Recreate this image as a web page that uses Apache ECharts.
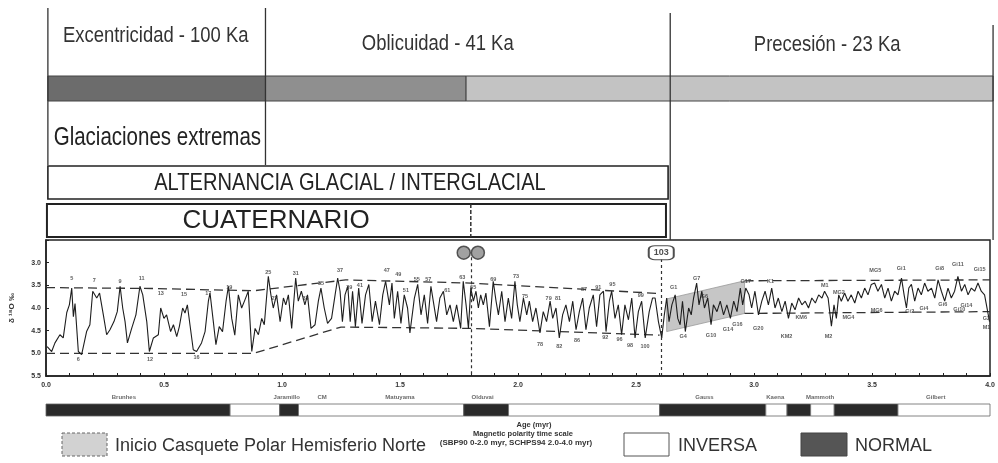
<!DOCTYPE html>
<html>
<head>
<meta charset="utf-8">
<script src="https://cdn.jsdelivr.net/npm/echarts@6/dist/echarts.min.js"></script>
<style>
  html, body { margin: 0; padding: 0; background: #fff; }
  #chart { width: 998px; height: 463px; }
</style>
</head>
<body>
<div id="chart"></div>
<script>
  // δ18O benthic record: [age (Myr), ‰]
  const d18o = [
    [0.005,4.85],[0.024,4.96],[0.038,4.77],[0.059,4.59],[0.073,4.66],[0.088,4.10],[0.099,3.93],[0.109,3.56],
    [0.116,4.19],[0.123,3.90],[0.137,4.96],[0.151,5.03],[0.172,4.52],[0.186,4.37],[0.198,3.63],[0.215,3.78],
    [0.227,3.67],[0.243,4.15],[0.257,4.59],[0.271,4.48],[0.288,4.30],[0.302,4.08],[0.314,3.52],[0.325,4.00],
    [0.335,4.30],[0.345,4.77],[0.363,4.45],[0.381,4.15],[0.398,3.52],[0.410,3.71],[0.427,4.30],[0.438,4.96],
    [0.455,4.66],[0.476,4.59],[0.486,4.00],[0.500,4.23],[0.511,4.15],[0.528,4.52],[0.540,4.37],[0.554,4.63],
    [0.565,4.41],[0.579,4.00],[0.589,4.11],[0.599,3.93],[0.610,4.37],[0.624,4.92],[0.638,4.96],[0.659,4.77],
    [0.674,4.52],[0.688,3.85],[0.695,3.67],[0.709,4.30],[0.720,4.81],[0.734,4.41],[0.748,4.52],[0.763,3.85],
    [0.773,3.52],[0.787,4.23],[0.800,4.60],[0.815,3.71],[0.829,4.00],[0.843,3.82],[0.857,3.63],[0.872,4.96],
    [0.886,4.45],[0.900,4.59],[0.914,4.23],[0.925,4.37],[0.942,3.30],[0.953,3.71],[0.963,4.00],[0.977,3.71],
    [0.992,4.30],[1.006,3.78],[1.016,3.93],[1.027,3.71],[1.041,4.45],[1.058,3.34],[1.069,3.85],[1.082,3.63],
    [1.097,3.93],[1.108,3.71],[1.123,4.45],[1.140,4.37],[1.154,3.85],[1.165,3.56],[1.179,4.00],[1.193,4.34],
    [1.210,4.23],[1.225,3.71],[1.236,3.34],[1.246,3.63],[1.256,4.30],[1.267,3.71],[1.279,3.52],[1.289,4.30],
    [1.299,3.63],[1.311,4.41],[1.325,3.56],[1.339,4.34],[1.354,3.71],[1.368,3.48],[1.382,4.30],[1.396,3.85],
    [1.413,4.37],[1.427,3.71],[1.439,3.41],[1.455,3.93],[1.466,3.45],[1.476,4.23],[1.490,3.63],[1.504,4.34],
    [1.518,3.71],[1.532,4.00],[1.542,4.55],[1.561,3.78],[1.575,3.48],[1.589,4.15],[1.603,3.71],[1.617,4.34],
    [1.631,3.52],[1.641,3.85],[1.655,4.30],[1.669,3.78],[1.684,3.63],[1.698,4.15],[1.712,3.93],[1.726,4.30],
    [1.740,3.93],[1.757,4.45],[1.768,3.41],[1.780,3.93],[1.790,4.45],[1.800,3.56],[1.811,3.85],[1.822,3.63],
    [1.832,4.00],[1.842,3.71],[1.853,3.93],[1.864,3.67],[1.879,4.41],[1.895,3.41],[1.907,3.85],[1.917,4.15],
    [1.931,3.63],[1.945,4.30],[1.959,3.78],[1.973,4.23],[1.987,3.41],[1.997,3.93],[2.008,4.30],[2.023,3.78],
    [2.037,4.15],[2.048,3.85],[2.062,4.30],[2.076,4.00],[2.093,4.55],[2.107,4.08],[2.121,4.30],[2.136,3.85],
    [2.147,4.23],[2.161,4.00],[2.175,4.66],[2.189,4.15],[2.203,3.93],[2.218,4.30],[2.232,3.85],[2.246,4.48],
    [2.260,4.08],[2.274,3.78],[2.288,4.48],[2.302,4.00],[2.319,3.71],[2.333,4.41],[2.347,3.71],[2.362,3.63],
    [2.373,4.52],[2.387,3.85],[2.397,3.63],[2.411,4.23],[2.425,3.93],[2.439,4.59],[2.453,3.93],[2.468,4.26],
    [2.482,3.78],[2.496,4.66],[2.510,4.08],[2.524,3.85],[2.539,4.66],[2.556,4.08],[2.570,3.78],[2.581,3.78],
    [2.595,4.30],[2.609,4.66],[2.620,4.15],[2.630,3.78],[2.640,4.30],[2.652,3.93],[2.666,3.71],[2.677,4.23],
    [2.687,4.37],[2.697,3.85],[2.709,4.52],[2.723,4.00],[2.734,4.15],[2.744,3.78],[2.757,3.45],[2.767,3.93],
    [2.779,3.63],[2.790,4.00],[2.804,3.78],[2.818,4.37],[2.828,3.93],[2.843,4.08],[2.857,3.85],[2.871,4.15],
    [2.885,3.93],[2.900,4.23],[2.914,3.85],[2.928,4.08],[2.942,3.56],[2.952,3.93],[2.965,3.56],[2.979,3.71],
    [2.990,4.00],[3.004,3.63],[3.019,4.15],[3.033,3.85],[3.047,3.63],[3.061,3.93],[3.075,3.56],[3.089,4.00],
    [3.103,3.78],[3.118,4.08],[3.132,3.85],[3.146,4.23],[3.160,3.89],[3.174,4.04],[3.189,3.78],[3.203,3.93],
    [3.217,3.85],[3.231,4.00],[3.245,3.78],[3.260,3.89],[3.274,3.71],[3.288,3.78],[3.299,3.63],[3.314,3.78],
    [3.328,4.40],[3.339,3.93],[3.349,4.23],[3.359,3.71],[3.370,3.85],[3.384,3.67],[3.398,3.85],[3.412,3.71],
    [3.427,3.89],[3.441,3.63],[3.455,3.78],[3.469,3.56],[3.483,3.71],[3.497,3.48],[3.511,3.45],[3.525,3.63],
    [3.540,3.48],[3.554,3.78],[3.568,3.56],[3.582,3.85],[3.596,3.63],[3.610,3.71],[3.625,3.34],[3.636,3.71],
    [3.646,4.00],[3.656,3.56],[3.667,3.48],[3.681,3.85],[3.695,3.56],[3.709,3.71],[3.723,3.45],[3.737,3.63],
    [3.752,3.56],[3.766,3.78],[3.780,3.38],[3.794,3.63],[3.808,3.85],[3.822,3.56],[3.836,3.78],[3.850,3.63],
    [3.864,3.30],[3.879,3.63],[3.893,3.48],[3.907,3.71],[3.921,3.56],[3.935,3.63],[3.949,3.45],[3.963,3.63],
    [3.977,3.71],[3.998,4.30]
  ];

  // dashed envelopes
  const upperEnvelope = [[0,3.55],[0.45,3.57],[0.88,3.62],[1.27,3.38],[1.8,3.45],[2.6,3.68]];
  const lowerEnvelope = [[0,5.0],[0.88,5.0],[1.25,4.42],[1.8,4.45],[2.6,4.6]];
  const upperLate = [[2.96,3.40],[4.0,3.38]];
  const lowerLate = [[2.96,4.12],[4.0,4.08]];

  // onset of Northern Hemisphere ice cap (shaded band)
  const capTop = [[2.63,3.80],[2.96,3.40]];
  const capBottom = [[2.63,4.52],[2.96,4.12]];

  // marine isotope stage labels: [label, age, value]
  const stageLabels = [
    ['5',0.109,3.35],['6',0.137,5.14],['7',0.205,3.40],['9',0.314,3.42],['11',0.405,3.35],['12',0.441,5.14],
    ['13',0.486,3.69],['15',0.585,3.71],['16',0.638,5.10],['17',0.688,3.69],['19',0.777,3.55],['25',0.942,3.22],
    ['27',0.968,3.80],['31',1.058,3.24],['33',1.10,3.80],['35',1.165,3.47],['37',1.246,3.18],['39',1.285,3.55],
    ['41',1.33,3.50],['47',1.444,3.18],['49',1.493,3.25],['51',1.525,3.62],['55',1.571,3.38],['57',1.62,3.38],
    ['61',1.70,3.62],['63',1.764,3.32],['65',1.81,3.55],['69',1.895,3.36],['73',1.992,3.30],['75',2.03,3.75],
    ['78',2.093,4.80],['79',2.13,3.78],['81',2.17,3.78],['82',2.175,4.85],['86',2.25,4.72],['87',2.28,3.60],
    ['91',2.34,3.55],['92',2.37,4.66],['95',2.40,3.48],['96',2.43,4.70],['98',2.475,4.82],['99',2.52,3.72],
    ['100',2.538,4.84],['G1',2.66,3.55],['G4',2.70,4.62],['G7',2.757,3.34],['G6',2.79,3.75],['G10',2.818,4.60],
    ['G14',2.89,4.47],['G16',2.93,4.36],['G17',2.965,3.42],['G20',3.018,4.46],['K1',3.07,3.42],['KM2',3.138,4.62],
    ['KM6',3.20,4.22],['M1',3.30,3.50],['M2',3.316,4.62],['MG2',3.36,3.66],['MG4',3.40,4.22],['MG5',3.514,3.18],
    ['MG6',3.52,4.06],['Gi1',3.624,3.12],['Gi2',3.66,4.08],['Gi4',3.72,4.02],['Gi8',3.787,3.12],['Gi6',3.80,3.92],
    ['Gi11',3.864,3.04],['Gi10',3.87,4.04],['Gi15',3.956,3.15],['Gi14',3.90,3.94],['G2',3.985,4.24],['M1',3.985,4.42]
  ];

  // magnetic polarity chrons: [start, end, polarity]
  const chrons = [
    [0,0.78,'N'],[0.78,0.99,'R'],[0.99,1.07,'N'],[1.07,1.77,'R'],[1.77,1.96,'N'],[1.96,2.60,'R'],
    [2.60,3.05,'N'],[3.05,3.14,'R'],[3.14,3.24,'N'],[3.24,3.34,'R'],[3.34,3.61,'N'],[3.61,4.0,'R']
  ];
  const chronNames = ['Brunhes','Jaramillo','CM','Matuyama','Olduvai','Gauss','Kaena','Mammoth','Gilbert'];
  const chronNameAges = [0.33,1.02,1.17,1.50,1.85,2.79,3.09,3.28,3.77];

  // orbital cycles & climate phases above the record
  const cycleNames = ['Excentricidad - 100 Ka','Oblicuidad - 41 Ka','Precesión - 23 Ka'];
  const cycleEdges = [0.008,0.93,2.645,4.013];
  const cycleTextAges = [0.465,1.66,3.31];
  const bandEdges = [0.008,0.93,1.78,4.013];
  const phaseNames = ['Glaciaciones extremas','ALTERNANCIA GLACIAL / INTERGLACIAL','CUATERNARIO'];
  const phaseSpans = [[0.008,0.93],[0.008,2.636],[0.004,2.627]];
  const phaseTextAges = [0.472,1.288,0.975];
  const boundaryAge = 1.8;
  const nhgAge = 2.607;

  // layout of the header rows (px from top of chart)
  const bandShades = ['#6c6c6c','#8f8f8f','#c3c3c3'];
  const cycleLineTop = [8,8,13,25];
  const cycleLineBottom = [165,165,240,240];
  const cycleTextY = [36,44,45];
  const bandY = [76,101];
  const phaseBoxY = [[101,165],[166,199],[204,237]];
  const phaseTextY = [138,183,221];
  const phaseFontSize = [25, 24.5, 26];
  const phaseSqueeze = [0.82, 0.82, 1];
  const narrow = 0.82; // emulates the condensed face of the original

  const chart = echarts.init(document.getElementById('chart'));

  const textEl = (p, text, size, squeeze, color) => ({
    type: 'text', x: p[0], y: p[1], scaleX: squeeze, scaleY: 1,
    style: { text, x: 0, y: 0, fill: color, font: size + 'px "Liberation Sans"',
      textAlign: 'center', textVerticalAlign: 'middle' }
  });

  const headerRender = (params, api) => {
    const px = (age, y) => api.coord([age, y]);
    const children = [];
    // colour band
    for (let i = 0; i < bandShades.length; i++) {
      const a = px(bandEdges[i], bandY[0]);
      const b = px(bandEdges[i + 1], bandY[1]);
      children.push({ type: 'rect', shape: { x: a[0], y: a[1], width: b[0] - a[0], height: b[1] - a[1] },
        style: { fill: bandShades[i], stroke: '#444', lineWidth: 1 } });
    }
    // cycle separators and names
    cycleEdges.forEach((age, i) => {
      const a = px(age, cycleLineTop[i]);
      const b = px(age, cycleLineBottom[i]);
      children.push({ type: 'line', shape: { x1: a[0], y1: a[1], x2: b[0], y2: b[1] },
        style: { stroke: '#333', lineWidth: 1.3 } });
    });
    cycleNames.forEach((name, i) => {
      children.push(textEl(px(cycleTextAges[i], cycleTextY[i]), name, 22.5, narrow, '#333'));
    });
    // phase boxes
    phaseNames.forEach((name, i) => {
      if (i > 0) {
        const a = px(phaseSpans[i][0], phaseBoxY[i][0]);
        const b = px(phaseSpans[i][1], phaseBoxY[i][1]);
        children.push({ type: 'rect', shape: { x: a[0], y: a[1], width: b[0] - a[0], height: b[1] - a[1] },
          style: { fill: '#fff', stroke: '#222', lineWidth: i === 2 ? 2 : 1.6 } });
      }
      children.push(textEl(px(phaseTextAges[i], phaseTextY[i]), name, phaseFontSize[i], phaseSqueeze[i], '#222'));
    });
    // Plio-Pleistocene boundary inside the Quaternary box
    const t = px(boundaryAge, phaseBoxY[2][0]);
    const u = px(boundaryAge, phaseBoxY[2][1]);
    children.push({ type: 'line', shape: { x1: t[0], y1: t[1], x2: u[0], y2: u[1] },
      style: { stroke: '#333', lineWidth: 1.5, lineDash: [4, 2] } });
    return { type: 'group', children };
  };

  const option = {
    animation: false,
    backgroundColor: '#fff',
    grid: [
      { left: 46, top: 240, width: 944, height: 136, show: true, borderColor: '#222', borderWidth: 1.5 },
      { left: 46, top: 404, width: 944, height: 12 },
      { left: 46, top: 0, width: 944, height: 240 }
    ],
    xAxis: [
      {
        gridIndex: 0, type: 'value', min: 0, max: 4, interval: 0.5,
        axisLine: { lineStyle: { color: '#222', width: 1.5 } },
        axisTick: { inside: true, length: 3, lineStyle: { color: '#222' } },
        minorTick: { show: true, splitNumber: 5, length: 3, lineStyle: { color: '#222' } },
        splitLine: { show: false },
        axisLabel: { fontSize: 7, fontWeight: 'bold', color: '#333', margin: 6,
          fontFamily: 'Liberation Sans', formatter: (v) => v.toFixed(1) }
      },
      { gridIndex: 1, type: 'value', min: 0, max: 4, show: false },
      { gridIndex: 2, type: 'value', min: 0, max: 4, show: false }
    ],
    yAxis: [
      {
        gridIndex: 0, type: 'value', inverse: true, min: 2.5, max: 5.5, interval: 0.5,
        name: 'δ ¹⁸O ‰', nameLocation: 'middle', nameRotate: 90, nameGap: 30,
        nameTextStyle: { fontSize: 8, fontWeight: 'bold', color: '#333', fontFamily: 'Liberation Sans' },
        axisLine: { show: true, lineStyle: { color: '#222', width: 1.5 } },
        axisTick: { show: true, inside: true, length: 3, lineStyle: { color: '#222' } },
        splitLine: { show: false },
        axisLabel: { fontSize: 7, fontWeight: 'bold', color: '#333', margin: 5, fontFamily: 'Liberation Sans',
          formatter: (v) => (Math.abs(v - 2.5) < 1e-6 ? '' : v.toFixed(1)) }
      },
      { gridIndex: 1, type: 'value', min: 0, max: 1, show: false },
      { gridIndex: 2, type: 'value', min: 0, max: 240, inverse: true, show: false }
    ],
    series: [
      {
        name: 'Inicio Casquete Polar Hemisferio Norte',
        type: 'custom', xAxisIndex: 0, yAxisIndex: 0, data: [[0, 0]], z: 1,
        renderItem: (params, api) => {
          const pts = capTop.concat(capBottom.slice().reverse()).map((p) => api.coord(p));
          return { type: 'polygon', shape: { points: pts }, style: { fill: '#c6c6c6', stroke: '#999', lineWidth: 0.8 } };
        }
      },
      ...[upperEnvelope, lowerEnvelope, upperLate, lowerLate].map((env) => ({
        type: 'line', xAxisIndex: 0, yAxisIndex: 0, data: env, showSymbol: false, z: 2,
        lineStyle: { color: '#333', width: 1.3, type: [9, 5] }
      })),
      {
        name: 'δ18O', type: 'line', xAxisIndex: 0, yAxisIndex: 0, data: d18o, showSymbol: false, z: 3,
        lineStyle: { color: '#1e1e1e', width: 1.1 },
        markLine: {
          silent: true, symbol: 'none', label: { show: false },
          data: [
            [{ coord: [boundaryAge, 2.88] }, { coord: [boundaryAge, 5.5] }],
            [{ coord: [nhgAge, 2.92] }, { coord: [nhgAge, 5.5] }]
          ],
          lineStyle: { color: '#333', width: 1.2, type: [3, 3] }
        }
      },
      {
        type: 'scatter', xAxisIndex: 0, yAxisIndex: 0, z: 4,
        data: stageLabels.map((s) => ({ name: s[0], value: [s[1], s[2]] })),
        symbolSize: 1, itemStyle: { color: 'rgba(0,0,0,0)' },
        label: { show: true, position: 'inside', formatter: '{b}', fontSize: 5.5, fontWeight: 'bold',
          color: '#333', fontFamily: 'Liberation Sans' }
      },
      {
        type: 'scatter', xAxisIndex: 0, yAxisIndex: 0, z: 5, clip: false,
        data: [[boundaryAge - 0.03, 2.78], [boundaryAge + 0.03, 2.78]],
        symbolSize: 13, itemStyle: { color: '#8a8a8a', borderColor: '#333', borderWidth: 1.5 }
      },
      {
        type: 'scatter', xAxisIndex: 0, yAxisIndex: 0, z: 5, clip: false,
        data: [{ name: '103', value: [nhgAge, 2.78] }],
        symbol: 'roundRect', symbolSize: [25, 14],
        itemStyle: { color: '#fff', borderColor: '#222', borderWidth: 1.5 },
        label: { show: true, position: 'inside', formatter: '{b}', fontSize: 9, fontWeight: 'bold',
          color: '#222', fontFamily: 'Liberation Sans' }
      },
      {
        type: 'custom', xAxisIndex: 1, yAxisIndex: 1,
        data: chrons.map((c) => [c[0], c[1], c[2] === 'N' ? 1 : 0]),
        renderItem: (params, api) => {
          const a = api.coord([api.value(0), 1]);
          const b = api.coord([api.value(1), 0]);
          return { type: 'rect', shape: { x: a[0], y: a[1], width: b[0] - a[0], height: b[1] - a[1] },
            style: { fill: api.value(2) ? '#2a2a2a' : '#fff', stroke: '#666', lineWidth: 0.8 } };
        }
      },
      {
        type: 'scatter', xAxisIndex: 1, yAxisIndex: 1, clip: false,
        data: chronNames.map((n, i) => ({ name: n, value: [chronNameAges[i], 1] })),
        symbolSize: 1, itemStyle: { color: 'rgba(0,0,0,0)' },
        label: { show: true, position: 'top', distance: 3, formatter: '{b}', fontSize: 6, fontWeight: 'bold',
          color: '#444', fontFamily: 'Liberation Sans' }
      },
      {
        type: 'custom', xAxisIndex: 2, yAxisIndex: 2, data: [[0, 0]], clip: false,
        renderItem: headerRender
      }
    ],
    graphic: [
      { type: 'rect', shape: { x: 62, y: 433, width: 45, height: 23 },
        style: { fill: '#d2d2d2', stroke: '#666', lineWidth: 1, lineDash: [3, 2] } },
      { type: 'text', x: 115, y: 446,
        style: { text: 'Inicio Casquete Polar Hemisferio Norte', font: '18px "Liberation Sans"', fill: '#333',
          textVerticalAlign: 'middle' } },
      { type: 'text', x: 534, y: 425,
        style: { text: 'Age (myr)', font: 'bold 7.5px "Liberation Sans"', fill: '#333', textAlign: 'center', textVerticalAlign: 'middle' } },
      { type: 'text', x: 523, y: 434,
        style: { text: 'Magnetic polarity time scale', font: 'bold 7.5px "Liberation Sans"', fill: '#333', textAlign: 'center', textVerticalAlign: 'middle' } },
      { type: 'text', x: 516, y: 443,
        style: { text: '(SBP90 0-2.0 myr, SCHPS94 2.0-4.0 myr)', font: 'bold 8px "Liberation Sans"', fill: '#333', textAlign: 'center', textVerticalAlign: 'middle' } },
      { type: 'rect', shape: { x: 624, y: 433, width: 45, height: 23 },
        style: { fill: '#fff', stroke: '#555', lineWidth: 1 } },
      { type: 'text', x: 678, y: 446,
        style: { text: 'INVERSA', font: '18px "Liberation Sans"', fill: '#333', textVerticalAlign: 'middle' } },
      { type: 'rect', shape: { x: 801, y: 433, width: 46, height: 23 },
        style: { fill: '#555', stroke: '#444', lineWidth: 1 } },
      { type: 'text', x: 855, y: 446,
        style: { text: 'NORMAL', font: '18px "Liberation Sans"', fill: '#333', textVerticalAlign: 'middle' } }
    ]
  };

  chart.setOption(option);
  window.addEventListener('resize', () => chart.resize());
</script>
</body>
</html>
